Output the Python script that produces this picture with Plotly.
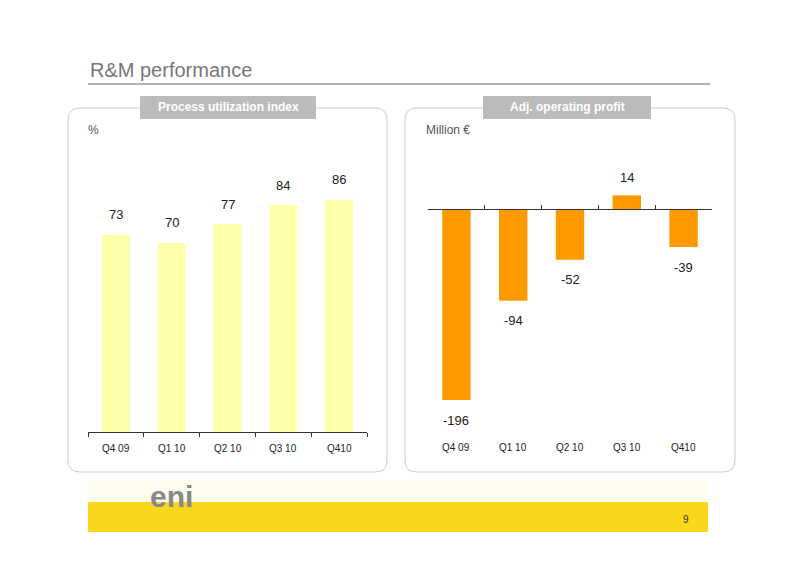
import plotly.graph_objects as go

quarters = ["Q4 09", "Q1 10", "Q2 10", "Q3 10", "Q410"]
utilization = [73, 70, 77, 84, 86]
adj_profit = [-196, -94, -52, 14, -39]

W, H = 800, 566
OFF = 8  # page body margin
FONT = "Liberation Sans, Arial, sans-serif"


def px(x):
    return (x - OFF) / W


def py(y):
    return 1 - (y - OFF) / H


def rounded_box(x0, y0, x1, y1, r=12):
    # paper-coordinate path with rounded corners (pixels in)
    X0, X1 = px(x0), px(x1)
    Y0, Y1 = py(y0), py(y1)
    rx, ry = r / W, r / H
    return (f"M {X0+rx},{Y0} L {X1-rx},{Y0} Q {X1},{Y0} {X1},{Y0-ry} "
            f"L {X1},{Y1+ry} Q {X1},{Y1} {X1-rx},{Y1} L {X0+rx},{Y1} "
            f"Q {X0},{Y1} {X0},{Y1+ry} L {X0},{Y0-ry} Q {X0},{Y0} {X0+rx},{Y0} Z")


def label(x, y, text, size, color, xanchor="center"):
    return dict(x=px(x), y=py(y), xref="paper", yref="paper", text=text, showarrow=False,
                xanchor=xanchor, yanchor="middle", font=dict(size=size, color=color))


fig = go.Figure()
fig.add_trace(go.Bar(x=quarters, y=utilization, marker_color="#FFFFAA",
                     marker_line_width=0, width=0.5, xaxis="x", yaxis="y"))
fig.add_trace(go.Bar(x=quarters, y=adj_profit, marker_color="#FF9900",
                     marker_line_width=0, width=0.5, xaxis="x2", yaxis="y2"))

ann = []
for q, v in zip(quarters, utilization):
    ann.append(dict(x=q, y=v, xref="x", yref="y", text=str(v), showarrow=False,
                    yanchor="middle", yshift=20, font=dict(size=13, color="#222")))
    ann.append(dict(x=q, y=0, xref="x", yref="y", text=q, showarrow=False,
                    yanchor="middle", yshift=-16, font=dict(size=10, color="#222")))
for q, v in zip(quarters, adj_profit):
    ann.append(dict(x=q, y=v, xref="x2", yref="y2", text=str(v), showarrow=False,
                    yanchor="middle", yshift=18 if v > 0 else -20,
                    font=dict(size=13, color="#222")))
    ann.append(dict(x=q, y=py(447), xref="x2", yref="paper", text=q, showarrow=False,
                    yanchor="middle", font=dict(size=10, color="#222")))

ann += [
    label(88, 70, "R&M performance", 20, "#777", "left"),
    label(228, 107, "<b>Process utilization index</b>", 12, "white"),
    label(567, 107, "<b>Adj. operating profit</b>", 12, "white"),
    label(86, 130, "%", 12, "#555", "left"),
    label(424, 130, "Million €", 12, "#555", "left"),
    label(686, 519, "9", 10, "#333"),
    label(148, 496, "<b>eni</b>", 30, "#888", "left"),
]

shapes = [
    dict(type="line", xref="paper", yref="paper", x0=px(88), x1=px(710), y0=py(84), y1=py(84),
         line=dict(color="#999", width=1.5)),
    dict(type="path", xref="paper", yref="paper", path=rounded_box(68, 108, 387, 472),
         line=dict(color="#ccc", width=1), layer="below"),
    dict(type="path", xref="paper", yref="paper", path=rounded_box(405, 108, 735, 472),
         line=dict(color="#ccc", width=1), layer="below"),
    dict(type="rect", xref="paper", yref="paper", x0=px(140), x1=px(316), y0=py(96), y1=py(119),
         fillcolor="#BBBBBB", line_width=0, layer="below"),
    dict(type="rect", xref="paper", yref="paper", x0=px(483), x1=px(651), y0=py(96), y1=py(119),
         fillcolor="#BBBBBB", line_width=0, layer="below"),
    dict(type="rect", xref="paper", yref="paper", x0=px(88), x1=px(708), y0=py(502), y1=py(532),
         fillcolor="#F9D71C", line_width=0, layer="below"),
    dict(type="rect", xref="paper", yref="paper", x0=px(88), x1=px(708), y0=py(480), y1=py(502),
         fillcolor="#FFFDF0", line_width=0, layer="below"),
]

fig.update_layout(
    width=W, height=H, margin=dict(l=0, r=0, t=0, b=0),
    paper_bgcolor="white", plot_bgcolor="rgba(0,0,0,0)",
    showlegend=False, font=dict(family=FONT),
    xaxis=dict(domain=[px(88), px(367)], showline=True, linecolor="#333",
               ticks="outside", tickson="boundaries", ticklen=4, tickcolor="#333",
               showticklabels=False, anchor="y"),
    yaxis=dict(domain=[py(432), py(180)], range=[0, 93.3], visible=False),
    xaxis2=dict(domain=[px(428), px(712)], showline=True, linecolor="#333",
                ticks="inside", tickson="boundaries", ticklen=4, tickcolor="#333",
                showticklabels=False, anchor="free", position=py(209)),
    yaxis2=dict(domain=[py(420), py(170)], range=[-216.4, 40], visible=False),
    annotations=ann, shapes=shapes,
)

fig.write_html("out.html")
